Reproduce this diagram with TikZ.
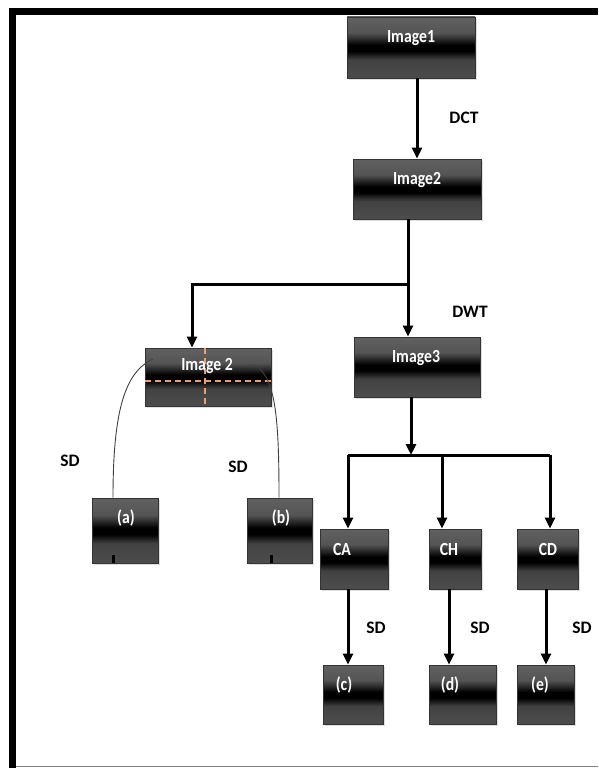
\documentclass[tikz,border=0pt]{standalone}
\usepackage{fontspec}
\setmainfont{Carlito}
\newfontfamily\boxfont[FakeStretch=0.85]{Carlito}
\usetikzlibrary{arrows.meta,shadows}
\definecolor{sA}{gray}{0.30}
\definecolor{sB}{gray}{0.26}
\definecolor{sC}{gray}{0.0}
\definecolor{sD}{gray}{0.33}
\definecolor{sE}{gray}{0.38}
\definecolor{dashc}{RGB}{235,160,110}
\pgfdeclareverticalshading{boxshade}{100bp}{color(0bp)=(sA); color(25bp)=(sA); color(40bp)=(sB); color(47bp)=(sC); color(52bp)=(sC); color(62bp)=(sD); color(75bp)=(sE); color(100bp)=(sE)}
\tikzset{
  box/.style={draw=black!80, line width=0.8pt, shading=boxshade, inner sep=0pt,
    drop shadow={opacity=0.25, shadow xshift=2pt, shadow yshift=-2pt}},
  btext/.style={text=white, font=\boxfont\bfseries\fontsize{18.5}{22}\selectfont, inner sep=0pt},
  lbl/.style={text=black, font=\bfseries\fontsize{17.5}{21}\selectfont, inner sep=0pt},
  conn/.style={line width=3pt, black},
  arr/.style={conn, -{Triangle[length=11pt,width=10pt]}},
  thin/.style={line width=0.9pt, black!75}
}
\begin{document}
\begin{tikzpicture}[x=1pt,y=-1pt]
\useasboundingbox (0,0) rectangle (598,768);
\fill[white] (0,0) rectangle (598,768);
% frame
\fill[black] (9,8) rectangle (598,15);
\fill[black] (9,8) rectangle (16,768);
\draw[gray, line width=1.5pt] (16,766.5) -- (598,766.5);

% boxes
\node[box, minimum width=128pt, minimum height=61pt] (img1) at (411,47.5) {};
\node[box, minimum width=128pt, minimum height=60pt] (img2) at (417,189) {};
\node[box, minimum width=126pt, minimum height=60pt] (img3) at (417,367) {};
\node[box, minimum width=126pt, minimum height=58pt] (imgL) at (208,377) {};
\node[box, minimum width=66pt, minimum height=65pt] (a) at (125,530.5) {};
\node[box, minimum width=65pt, minimum height=65pt] (b) at (279.5,530.5) {};
\node[box, minimum width=68pt, minimum height=60pt] (CA) at (354,559) {};
\node[box, minimum width=52pt, minimum height=60pt] (CH) at (455,559) {};
\node[box, minimum width=61pt, minimum height=60pt] (CD) at (547.5,559) {};
\node[box, minimum width=60pt, minimum height=59pt] (c) at (353,694.5) {};
\node[box, minimum width=67pt, minimum height=59pt] (d) at (462.5,694.5) {};
\node[box, minimum width=57pt, minimum height=59pt] (e) at (545.5,694.5) {};

% dashed quadrant lines in left Image 2
\draw[dashc, line width=1.2pt, dash pattern=on 6pt off 4pt] (imgL.west |- 0,381) -- (imgL.east |- 0,381);
\draw[dashc, line width=1.2pt, dash pattern=on 6pt off 4pt] (imgL.north -| 205,0) -- (imgL.south -| 205,0);

% box texts
\node[btext] (t1) at (411,38) {Image1};
\node[btext] (t2) at (417,180) {Image2};
\node[btext] (t3) at (416,358) {Image3};
\node[btext] (tL) at (207,366) {Image 2};
\node[btext] (ta) at (126,518) {(a)};
\node[btext] (tb) at (281,518) {(b)};
\node[btext] (tCA) at (342,549) {CA};
\node[btext] (tCH) at (449,549) {CH};
\node[btext] (tCD) at (548,549) {CD};
\node[btext] (tc) at (344,685) {(c)};
\node[btext] (td) at (450,685) {(d)};
\node[btext] (te) at (540,685) {(e)};

% labels
\node[lbl] (dct) at (464,118) {DCT};
\node[lbl] (dwt) at (470,312) {DWT};
\node[lbl] (sd1) at (70,461) {SD};
\node[lbl] (sd2) at (238,467) {SD};
\node[lbl] (sd3) at (376,628) {SD};
\node[lbl] (sd4) at (480,628) {SD};
\node[lbl] (sd5) at (582,628) {SD};

% connectors
\coordinate (j1) at (408,284);
\coordinate (j1L) at (192,284);
\coordinate (bus) at (411,455);
\coordinate (busL) at (348,455);
\coordinate (busM) at (442,455);
\coordinate (busR) at (550,455);
\coordinate (cL) at (153,359);
\coordinate (cR) at (255,365);

\draw[arr] (img2.north |- img1.south) -- (img2.north);
\draw[conn] (img2.south -| j1) -- (j1);
\draw[arr] (j1) -- (j1L) -- (j1L |- imgL.north);
\draw[arr] (j1) -- (j1 |- img3.north);
\draw[arr] (img3.south -| bus) -- (bus);
\draw[conn] (busL) -- (busR);
\draw[arr] (busL) -- (busL |- CA.north);
\draw[arr] (busM) -- (busM |- CH.north);
\draw[arr] (busR) -- (busR |- CD.north);
\draw[arr] (CA.south -| busL) -- (c.north -| busL);
\draw[arr] (CH.south -| 449,0) -- (d.north -| 449,0);
\draw[arr] (CD.south -| 546,0) -- (e.north -| 546,0);

\draw[thin] (cL) .. controls (125,372) and (113,410) .. ([xshift=-12pt]a.north);
\draw[thin] (cR) .. controls (276,378) and (279,420) .. ([xshift=-0.5pt]b.north);
\draw[line width=3pt] ([xshift=-12pt]a.south) -- ++(0,-8);
\draw[line width=3pt] ([xshift=-8.5pt]b.south) -- ++(0,-8);
\end{tikzpicture}
\end{document}
